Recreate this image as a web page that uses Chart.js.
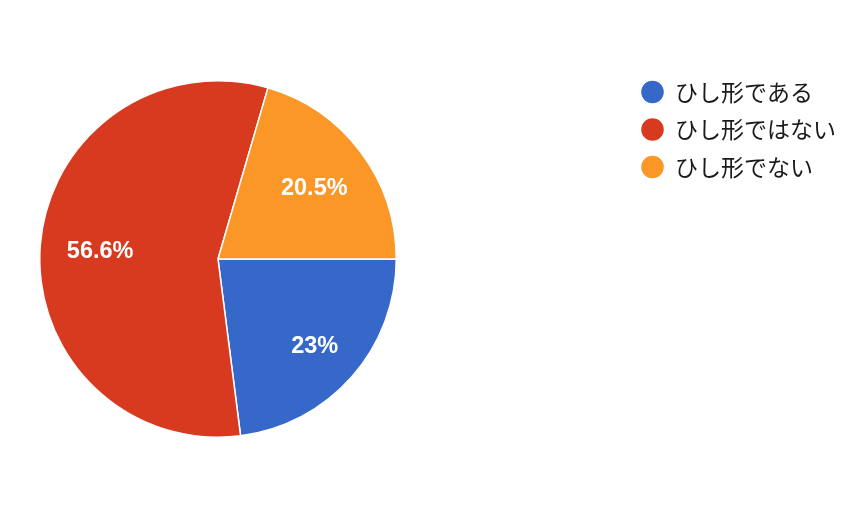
<!DOCTYPE html>
<html>
<head>
<meta charset="utf-8">
<script src="https://cdn.jsdelivr.net/npm/chart.js@4/dist/chart.umd.min.js"></script>
<style>
  body { margin: 0; background: #fff; }
</style>
</head>
<body>
<canvas id="myChart" width="860" height="516"></canvas>
<script>
const categories = ["ひし形である", "ひし形ではない", "ひし形でない"];
const shares = [23, 56.6, 20.5];
const valueLabels = ["23%", "56.6%", "20.5%"];
const sliceColors = ["#3568c9", "#d83a20", "#fa9726"];

// legend lives to the right of the pie and takes no layout space
const moveLegend = {
    id: "moveLegend",
    afterLayout(chart) {
        const legend = chart.legend;
        legend.left = 627;
        legend.right = 860;
        legend.width = 233;
        legend.top = 66;
        legend.bottom = 320;
        legend.height = 254;
    }
};

// white percentage text inside each slice
const sliceLabels = {
    id: "sliceLabels",
    afterDatasetsDraw(chart) {
        const ctx = chart.ctx;
        const meta = chart.getDatasetMeta(0);
        const size = 23.5;
        const capHalf = size * 0.716 / 2;
        ctx.save();
        ctx.font = "bold " + size + "px 'Liberation Sans', Arial, sans-serif";
        ctx.fillStyle = "#fff";
        ctx.textAlign = "center";
        ctx.textBaseline = "alphabetic";
        meta.data.forEach((arc, i) => {
            const p = arc.getProps(["x", "y", "startAngle", "endAngle", "outerRadius"], true);
            const mid = (p.startAngle + p.endAngle) / 2;
            const cos = Math.cos(mid);
            const sin = Math.sin(mid);
            const hw = ctx.measureText(valueLabels[i]).width / 2;
            const d = p.outerRadius * 0.853 - (hw * Math.abs(cos) + capHalf * Math.abs(sin));
            ctx.fillText(valueLabels[i], p.x + cos * d, p.y + sin * d + capHalf);
        });
        ctx.restore();
    }
};

const graph = document.getElementById("myChart").getContext("2d");

let myChart = new Chart(graph, {
    type: "pie",
    data: {
        labels: categories,
        datasets: [{
            data: shares,
            backgroundColor: sliceColors,
            borderColor: "#fff",
            borderWidth: 1.5
        }]
    },
    options: {
        responsive: false,
        animation: false,
        devicePixelRatio: 1,
        rotation: 90,
        layout: {
            padding: { left: 39, right: 463, top: 80, bottom: 78 }
        },
        plugins: {
            tooltip: { enabled: false },
            legend: {
                position: "chartArea",
                align: "start",
                labels: {
                    usePointStyle: true,
                    pointStyle: "circle",
                    boxWidth: 22,
                    boxHeight: 17,
                    padding: 14.5,
                    color: "#1a1a1a",
                    font: { family: "'Noto Sans CJK JP', sans-serif", size: 23 }
                }
            }
        }
    },
    plugins: [moveLegend, sliceLabels]
});
</script>
</body>
</html>
